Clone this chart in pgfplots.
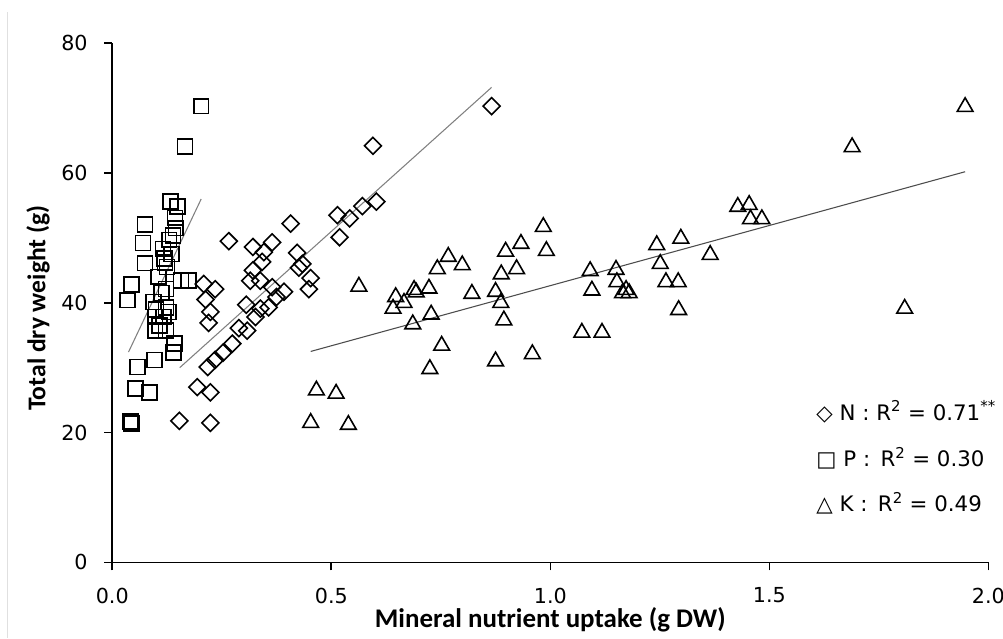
\documentclass[border=0pt]{standalone}
\usepackage{pgfplots}
\pgfplotsset{compat=1.18}
\usepackage{fontspec}
\setmainfont{DejaVu Sans}
\newfontfamily\labelfont{Carlito}
\begin{document}
\begin{tikzpicture}
\begin{axis}[
  at={(0pt,0pt)}, anchor=south west,
  scale only axis, width=657pt, height=389.25pt,
  xmin=0, xmax=2, ymin=0, ymax=80,
  axis x line*=bottom, axis y line*=left,
  xtick={0,0.5,1,1.5,2}, ytick={0,20,40,60,80},
  tick align=outside, major tick length=6pt,
  tick style={black, line width=1.2pt},
  axis line style={black, line width=1.2pt},
  tick label style={font=\fontsize{15.5}{18}\selectfont},
  /pgf/number format/assume math mode=true,
  xticklabel style={/pgf/number format/.cd, fixed, fixed zerofill, precision=1},
  xticklabel shift=9.5pt, yticklabel shift=9pt,
  xlabel={Mineral nutrient uptake (g DW)},
  ylabel={Total dry weight (g)},
  xlabel style={font=\labelfont\bfseries\fontsize{20.2}{22}\selectfont, at={(axis description cs:0.5,-0.1206)}, anchor=base, yshift=-2pt},
  ylabel style={font=\labelfont\bfseries\fontsize{19.2}{22}\selectfont, at={(axis description cs:-0.0848,0.49)}, anchor=center},
  clip=false,
]
% N
\addplot[only marks, mark=square, mark size=4.5pt, mark options={rotate=45, line width=1.2pt, fill=white, draw=black}] coordinates {
(0.595,64.2) (0.866,70.3) (0.603,55.6) (0.571,54.9) (0.542,53.0) (0.514,53.5)
(0.519,50.1) (0.407,52.2) (0.266,49.5) (0.321,48.6) (0.365,49.3) (0.346,47.8)
(0.422,47.7) (0.342,46.3) (0.434,46.0) (0.426,45.4) (0.321,45.0) (0.453,43.8)
(0.315,43.4) (0.338,43.4) (0.365,42.4) (0.392,41.7) (0.449,42.1) (0.375,40.9)
(0.306,39.7) (0.357,39.3) (0.338,39.1) (0.327,37.8) (0.289,36.1) (0.308,35.7)
(0.274,33.7) (0.253,32.3) (0.235,31.2) (0.218,30.1) (0.194,27.0) (0.224,26.2)
(0.153,21.8) (0.224,21.5) (0.209,42.9) (0.235,42.1) (0.213,40.5) (0.224,38.6)
(0.220,36.9)
};
% P
\addplot[only marks, mark=square, mark size=5.6pt, mark options={line width=1.2pt, fill=white, draw=black}] coordinates {
(0.203,70.3) (0.166,64.1) (0.133,55.6) (0.149,54.8) (0.143,53.1) (0.075,52.1)
(0.145,51.5) (0.139,50.4) (0.130,49.7) (0.070,49.2) (0.116,48.3) (0.135,47.5)
(0.119,46.8) (0.120,46.2) (0.075,46.1) (0.125,45.5) (0.105,44.0) (0.157,43.4)
(0.174,43.4) (0.044,42.8) (0.123,42.1) (0.112,41.5) (0.035,40.4) (0.094,40.1)
(0.123,39.3) (0.100,39.0) (0.129,38.6) (0.098,37.8) (0.117,37.8) (0.108,36.5)
(0.098,35.7) (0.123,35.7) (0.142,33.7) (0.140,32.3) (0.097,31.2) (0.058,30.1)
(0.053,26.8) (0.085,26.2) (0.041,21.7) (0.044,21.4)
};
% K
\addplot[only marks, mark=triangle, mark size=6.8pt, mark options={line width=1.2pt, fill=white, draw=black}] coordinates {
(0.563,42.5) (0.647,40.9) (0.641,39.1) (0.466,26.5) (0.511,26.0) (0.453,21.5)
(0.539,21.2) (0.984,51.7) (0.933,49.1) (0.898,47.9) (0.991,48.0) (0.767,47.1)
(0.799,45.8) (0.742,45.2) (0.923,45.2) (0.888,44.4) (1.091,44.9) (1.150,45.1)
(0.723,42.2) (0.689,42.0) (0.694,41.6) (0.821,41.4) (0.875,41.7) (1.095,41.9)
(1.152,43.2) (1.165,41.5) (0.666,40.0) (0.887,40.0) (0.728,38.2) (0.686,36.7)
(0.894,37.3) (1.072,35.4) (1.118,35.4) (0.752,33.4) (0.959,32.1) (0.875,31.0)
(0.725,29.8) (1.428,54.8) (1.454,55.1) (1.457,52.9) (1.483,52.9) (1.243,48.9)
(1.298,49.9) (1.365,47.4) (1.251,46.0) (1.264,43.2) (1.292,43.2) (1.293,38.9)
(1.809,39.1) (1.173,42.0) (1.180,41.5) (1.689,64.0) (1.947,70.2)
};
% trend lines
\addplot[no marks, black!50, line width=0.8pt] coordinates {(0.154,30.0) (0.866,73.2)};
\addplot[no marks, black!50, line width=0.8pt] coordinates {(0.037,32.4) (0.203,56.0)};
\addplot[no marks, black!70, line width=0.8pt] coordinates {(0.453,32.5) (1.947,60.2)};
% legend text
\node[anchor=base west, inner sep=0pt, font=\fontsize{16}{18}\selectfont] at (axis cs:1.607,21.9) {◇ N : R\textsuperscript{2} = 0.71\textsuperscript{**}};
\node[anchor=base west, inner sep=0pt, font=\fontsize{16}{18}\selectfont] at (axis cs:1.607,14.7) {□ P :\ \,R\textsuperscript{2} = 0.30};
\node[anchor=base west, inner sep=0pt, font=\fontsize{16}{18}\selectfont] at (axis cs:1.607,7.8) {△ K :\ \,R\textsuperscript{2} = 0.49};
\end{axis}
\draw[black!12, line width=0.75pt] (-78.2pt,412.7pt) -- (-78.2pt,-56.8pt);
\pgfresetboundingbox
\path[use as bounding box] (-84.2pt,-56.8pt) rectangle (668pt,421.7pt);
\end{tikzpicture}
\end{document}
